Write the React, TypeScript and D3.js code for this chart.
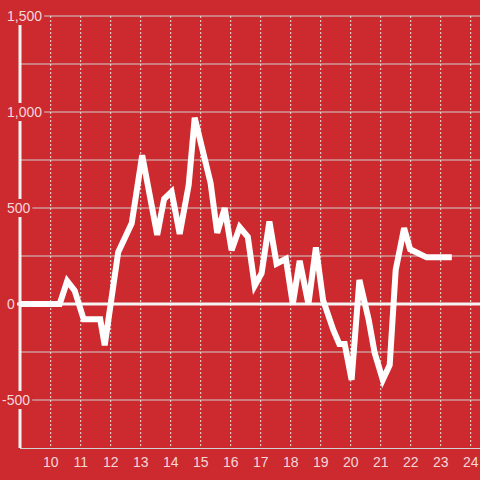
import * as d3 from "d3";

const xTicks = [10, 11, 12, 13, 14, 15, 16, 17, 18, 19, 20, 21, 22, 23, 24];
const yTicks = [1500, 1000, 500, 0, -500];
const yMinor = [1250, 750, 250, -250];

const hours = [
  9, 10.3, 10.55, 10.8, 11.1, 11.65, 11.8, 12.25, 12.7, 13.05, 13.55, 13.78,
  14.03, 14.3, 14.6, 14.8, 15.33, 15.55, 15.8, 16.03, 16.3, 16.57, 16.8, 17.03,
  17.29, 17.53, 17.84, 18.07, 18.3, 18.59, 18.84, 19.08, 19.42, 19.62, 19.8,
  20.03, 20.29, 20.6, 20.8, 21.07, 21.3, 21.5, 21.78, 21.98, 22.53, 23.37,
];
const values = [
  0, 0, 120, 70, -80, -80, -215, 270, 420, 775, 360, 547, 585, 365, 620, 970,
  630, 370, 500, 280, 400, 350, 95, 160, 430, 210, 235, 0, 225, 0, 295, 20,
  -135, -208, -208, -395, 125, -83, -255, -395, -318, 177, 395, 285, 243, 243,
];

const W = 480;
const H = 480;
const BG = "#cc2a2f";
const TEXT = "rgba(255,255,255,0.82)";

export default function App() {
  const x = d3.scaleLinear().domain([9, 25]).range([20.7, 500.7]);
  const y = d3.scaleLinear().domain([-750, 1500]).range([448, 16]);
  const left = 20;

  const line = d3
    .line<number>()
    .x((_, i) => x(hours[i]))
    .y((d) => y(d));

  const fmt = d3.format(",");

  return (
    <div style={{ position: "fixed", left: 0, top: 0 }}>
      <svg width={W} height={H} style={{ display: "block", fontFamily: "Liberation Sans, Arial, sans-serif" }}>
        <rect width={W} height={H} fill={BG} />
        {/* horizontal grid */}
        {[...yTicks, ...yMinor].map((t) => (
          <line key={"h" + t} x1={left} x2={W} y1={y(t)} y2={y(t)} stroke="#cfcfcf" strokeWidth={1} />
        ))}
        {/* vertical dotted grid */}
        {xTicks.map((t) => (
          <line
            key={"v" + t}
            x1={x(t)}
            x2={x(t)}
            y1={y(1500)}
            y2={y(-750)}
            stroke="#e6e6e6"
            strokeWidth={1}
            strokeDasharray="2,2"
          />
        ))}
        {/* bottom axis line */}
        <line x1={left} x2={W} y1={y(-750) + 0.5} y2={y(-750) + 0.5} stroke="#d0d0d0" strokeWidth={1} />
        {/* y axis line */}
        <line x1={left} x2={left} y1={y(1500)} y2={y(-750)} stroke="#f4f4f4" strokeWidth={3} />
        {/* zero line */}
        <line x1={17} x2={W} y1={y(0)} y2={y(0)} stroke="#f4f4f4" strokeWidth={3} />
        {/* y labels with background */}
        {yTicks.map((t) => {
          const label = fmt(t).replace("−", "-");
          const lx = t < 0 ? 2 : 7;
          const w = label.length * 7.8 - (label.includes(",") ? 3.9 : 0) - (t < 0 ? 3 : 0);
          return (
            <g key={"yl" + t}>
              <rect x={lx - 2} y={y(t) - 9} width={w + 4} height={18} fill={BG} />
              <text x={lx} y={y(t)} dy="0.35em" fontSize={14} fill={TEXT}>
                {label}
              </text>
            </g>
          );
        })}
        {/* x labels */}
        {xTicks.map((t) => (
          <text key={"xl" + t} x={x(t)} y={462} dy="0.35em" textAnchor="middle" fontSize={14} fill={TEXT}>
            {t}
          </text>
        ))}
        {/* series */}
        <path d={line(values) ?? ""} fill="none" stroke="#ffffff" strokeWidth={6} />
      </svg>
    </div>
  );
}
